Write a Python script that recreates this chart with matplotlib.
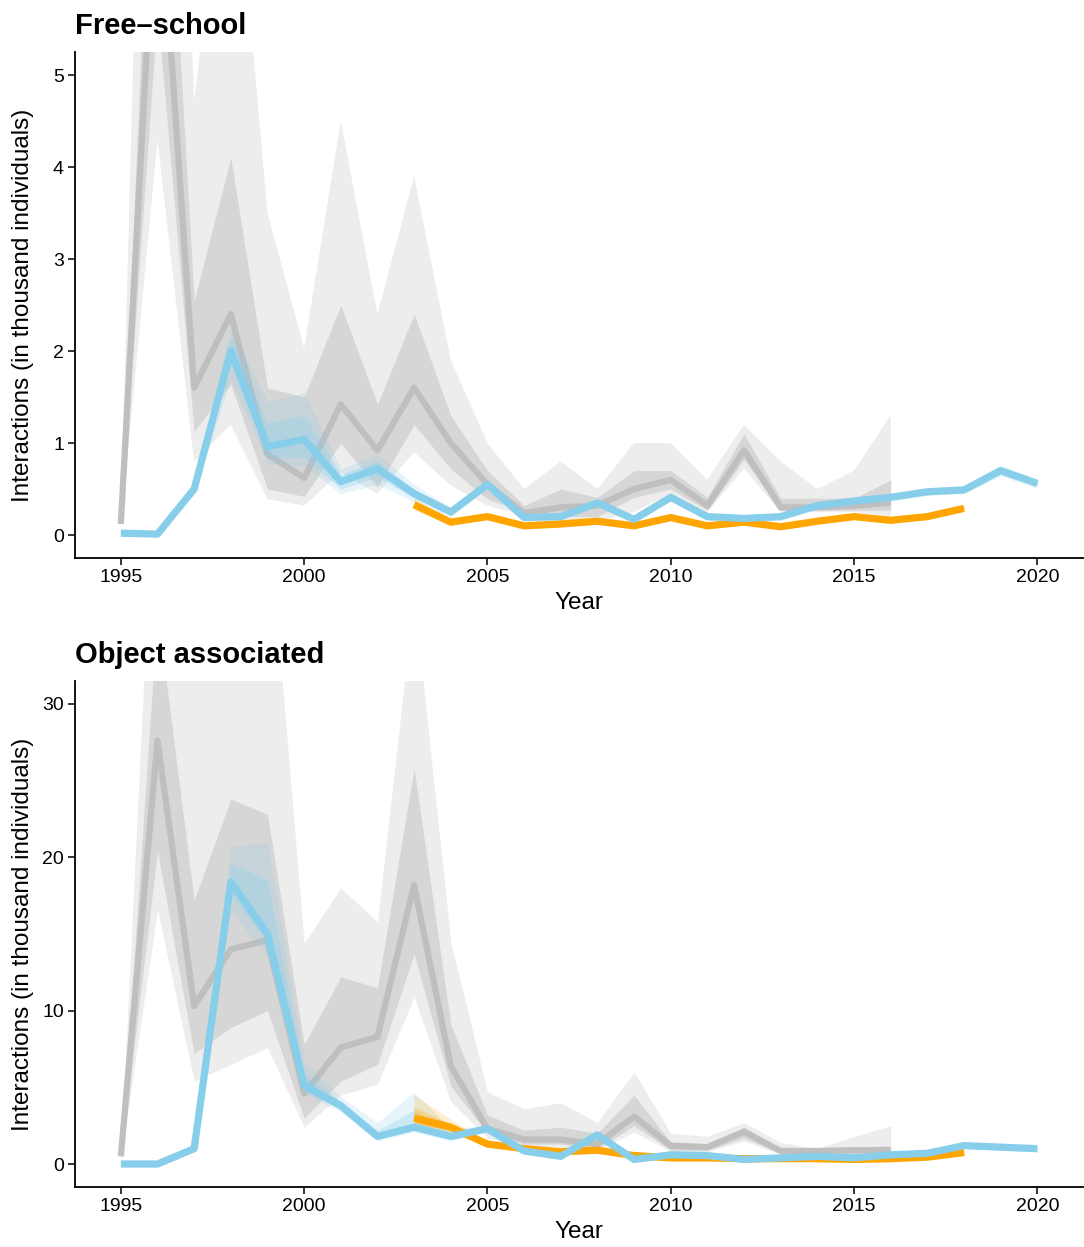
import numpy as np
import matplotlib.pyplot as plt

plt.rcParams['font.family'] = ['Liberation Sans', 'DejaVu Sans']

years_gray = list(range(1995, 2017))
years_blue = list(range(1995, 2021))
years_orange = list(range(2003, 2019))

# ---- Free-school (thousand individuals) ----
fs_gray = [0.12, 7.4, 1.6, 2.4, 0.88, 0.62, 1.42, 0.92, 1.6, 1.0, 0.55, 0.24, 0.3, 0.32, 0.5, 0.6, 0.32, 0.92, 0.3, 0.3, 0.32, 0.35]
fs_gray_hi50 = [0.14, 9.5, 2.55, 4.1, 1.6, 1.5, 2.5, 1.42, 2.4, 1.3, 0.7, 0.32, 0.5, 0.41, 0.7, 0.7, 0.41, 1.1, 0.4, 0.4, 0.4, 0.6]
fs_gray_lo50 = [0.1, 5.7, 1.13, 1.64, 0.5, 0.42, 1.0, 0.52, 1.2, 0.72, 0.39, 0.25, 0.2, 0.2, 0.41, 0.5, 0.27, 0.82, 0.27, 0.27, 0.27, 0.27]
fs_gray_hi95 = [0.16, 15.0, 4.72, 8.0, 3.5, 2.03, 4.5, 2.4, 3.9, 1.9, 1.0, 0.5, 0.8, 0.5, 1.0, 1.0, 0.6, 1.2, 0.8, 0.5, 0.7, 1.3]
fs_gray_lo95 = [0.08, 4.3, 0.8, 1.2, 0.39, 0.32, 0.68, 0.45, 0.9, 0.54, 0.32, 0.21, 0.15, 0.15, 0.25, 0.45, 0.25, 0.72, 0.25, 0.25, 0.25, 0.2]

fs_blue = [0.02, 0.01, 0.5, 2.0, 0.96, 1.04, 0.58, 0.72, 0.45, 0.25, 0.55, 0.19, 0.2, 0.35, 0.17, 0.41, 0.2, 0.18, 0.2, 0.32, 0.37, 0.41, 0.47, 0.49, 0.7, 0.56]
fs_blue_hi95 = [0.04, 0.03, 0.56, 2.25, 1.45, 1.55, 0.72, 0.88, 0.55, 0.3, 0.6, 0.23, 0.24, 0.39, 0.21, 0.45, 0.24, 0.22, 0.24, 0.36, 0.41, 0.45, 0.51, 0.54, 0.76, 0.61]
fs_blue_lo95 = [0.0, 0.0, 0.45, 1.7, 0.78, 0.75, 0.45, 0.55, 0.36, 0.2, 0.5, 0.15, 0.16, 0.31, 0.13, 0.37, 0.16, 0.14, 0.16, 0.28, 0.33, 0.37, 0.43, 0.45, 0.64, 0.51]
fs_blue_hi50 = [0.03, 0.02, 0.53, 2.15, 1.22, 1.3, 0.66, 0.8, 0.5, 0.28, 0.58, 0.21, 0.22, 0.37, 0.19, 0.43, 0.22, 0.2, 0.22, 0.34, 0.39, 0.43, 0.49, 0.51, 0.73, 0.58]
fs_blue_lo50 = [0.01, 0.0, 0.47, 1.85, 0.85, 0.85, 0.5, 0.63, 0.4, 0.22, 0.52, 0.17, 0.18, 0.33, 0.15, 0.39, 0.18, 0.16, 0.18, 0.3, 0.35, 0.39, 0.45, 0.47, 0.67, 0.54]

fs_orange = [0.33, 0.14, 0.2, 0.1, 0.12, 0.15, 0.1, 0.19, 0.1, 0.14, 0.09, 0.15, 0.2, 0.16, 0.2, 0.29]
fs_orange_hi95 = [0.4, 0.17, 0.23, 0.13, 0.15, 0.18, 0.13, 0.22, 0.13, 0.17, 0.12, 0.18, 0.23, 0.19, 0.23, 0.32]
fs_orange_lo95 = [0.27, 0.11, 0.17, 0.07, 0.09, 0.12, 0.07, 0.16, 0.07, 0.11, 0.06, 0.12, 0.17, 0.13, 0.17, 0.26]
fs_orange_hi50 = [0.37, 0.16, 0.22, 0.12, 0.14, 0.17, 0.12, 0.21, 0.12, 0.16, 0.11, 0.17, 0.22, 0.18, 0.22, 0.31]
fs_orange_lo50 = [0.3, 0.12, 0.18, 0.08, 0.1, 0.13, 0.08, 0.17, 0.08, 0.12, 0.07, 0.13, 0.18, 0.14, 0.18, 0.27]

# ---- Object associated (thousand individuals) ----
oa_gray = [0.5, 27.6, 10.3, 14.0, 14.6, 4.6, 7.6, 8.3, 18.2, 6.4, 2.3, 1.6, 1.6, 1.3, 3.1, 1.2, 1.1, 2.1, 0.85, 0.85, 0.9, 0.9]
oa_gray_hi50 = [0.6, 36.0, 17.2, 23.8, 22.8, 7.8, 12.2, 11.5, 25.8, 9.1, 3.2, 2.2, 2.4, 2.0, 4.5, 1.4, 1.3, 2.4, 1.0, 1.0, 1.1, 1.2]
oa_gray_lo50 = [0.4, 20.4, 7.2, 8.9, 10.0, 3.0, 5.4, 6.5, 13.7, 5.1, 2.0, 1.3, 1.3, 1.0, 2.5, 0.9, 0.9, 1.7, 0.7, 0.7, 0.7, 0.7]
oa_gray_hi95 = [0.7, 50.0, 40.0, 40.0, 43.0, 14.4, 18.0, 15.8, 37.0, 14.5, 4.7, 3.6, 4.0, 2.7, 6.0, 2.0, 1.8, 2.7, 1.4, 1.0, 1.8, 2.5]
oa_gray_lo95 = [0.3, 16.6, 5.4, 6.5, 7.6, 2.4, 4.5, 5.2, 10.9, 4.1, 1.7, 1.1, 1.1, 0.9, 2.1, 0.8, 0.8, 1.5, 0.6, 0.6, 0.6, 0.6]

oa_blue = [0.0, 0.0, 1.0, 18.4, 15.0, 5.1, 3.8, 1.8, 2.4, 1.8, 2.3, 0.85, 0.5, 1.9, 0.3, 0.6, 0.55, 0.3, 0.4, 0.5, 0.4, 0.6, 0.7, 1.2, 1.1, 1.0]
oa_blue_hi95 = [0.1, 0.1, 1.2, 20.7, 21.0, 6.7, 4.4, 2.7, 4.7, 2.3, 2.5, 1.0, 0.7, 2.1, 0.5, 0.8, 0.75, 0.5, 0.6, 0.7, 0.6, 0.8, 0.9, 1.4, 1.3, 1.2]
oa_blue_lo95 = [0.0, 0.0, 0.8, 16.5, 13.5, 4.6, 3.4, 1.5, 2.1, 1.5, 2.1, 0.65, 0.3, 1.7, 0.1, 0.4, 0.35, 0.1, 0.2, 0.3, 0.2, 0.4, 0.5, 1.0, 0.9, 0.8]
oa_blue_hi50 = [0.05, 0.05, 1.1, 19.6, 18.5, 5.8, 4.1, 2.2, 3.5, 2.1, 2.4, 0.95, 0.6, 2.0, 0.4, 0.7, 0.65, 0.4, 0.5, 0.6, 0.5, 0.7, 0.8, 1.3, 1.2, 1.1]
oa_blue_lo50 = [0.0, 0.0, 0.9, 17.5, 14.5, 4.9, 3.6, 1.65, 2.25, 1.65, 2.2, 0.75, 0.4, 1.8, 0.2, 0.5, 0.45, 0.2, 0.3, 0.4, 0.3, 0.5, 0.6, 1.1, 1.0, 0.9]

oa_orange = [3.0, 2.4, 1.3, 1.0, 0.8, 0.9, 0.55, 0.4, 0.4, 0.35, 0.35, 0.35, 0.3, 0.35, 0.45, 0.75]
oa_orange_hi95 = [4.5, 2.9, 1.5, 1.2, 1.0, 1.1, 0.75, 0.6, 0.6, 0.55, 0.55, 0.55, 0.5, 0.55, 0.65, 0.95]
oa_orange_lo95 = [2.3, 2.1, 1.1, 0.8, 0.6, 0.7, 0.35, 0.2, 0.2, 0.15, 0.15, 0.15, 0.1, 0.15, 0.25, 0.55]
oa_orange_hi50 = [3.7, 2.6, 1.4, 1.1, 0.9, 1.0, 0.65, 0.5, 0.5, 0.45, 0.45, 0.45, 0.4, 0.45, 0.55, 0.85]
oa_orange_lo50 = [2.6, 2.2, 1.2, 0.9, 0.7, 0.8, 0.45, 0.3, 0.3, 0.25, 0.25, 0.25, 0.2, 0.25, 0.35, 0.65]

GRAY_LINE = '#bfbfbf'
GRAY_IN = '#d6d6d6'
GRAY_OUT = '#ededed'
BLUE = '#87ceeb'
ORANGE = '#ffa500'


def draw_panel(ax, title, ymax, yticks,
               gray, g_hi50, g_lo50, g_hi95, g_lo95,
               blue, b_hi95, b_lo95, b_hi50, b_lo50,
               orange, o_hi95, o_lo95, o_hi50, o_lo50):
    ax.fill_between(years_gray, g_lo95, g_hi95, color=GRAY_OUT, lw=0, zorder=1)
    ax.fill_between(years_gray, g_lo50, g_hi50, color=GRAY_IN, lw=0, zorder=2)
    ax.plot(years_gray, gray, color=GRAY_LINE, lw=4.5, solid_capstyle='butt',
            solid_joinstyle='round', zorder=3)

    ax.fill_between(years_blue, b_lo95, b_hi95, color=BLUE, alpha=0.2, lw=0, zorder=4)
    ax.fill_between(years_blue, b_lo50, b_hi50, color=BLUE, alpha=0.3, lw=0, zorder=4)
    ax.fill_between(years_orange, o_lo95, o_hi95, color=ORANGE, alpha=0.2, lw=0, zorder=5)
    ax.fill_between(years_orange, o_lo50, o_hi50, color=ORANGE, alpha=0.3, lw=0, zorder=5)

    ax.plot(years_orange, orange, color=ORANGE, lw=5.2, solid_capstyle='butt',
            solid_joinstyle='round', zorder=6)
    ax.plot(years_blue, blue, color=BLUE, lw=5.2, solid_capstyle='butt',
            solid_joinstyle='round', zorder=7)

    ax.set_xlim(1993.75, 2021.25)
    ax.set_ylim(-0.05 * ymax, 1.05 * ymax)
    ax.set_xticks([1995, 2000, 2005, 2010, 2015, 2020])
    ax.set_yticks(yticks)
    for s in ['top', 'right']:
        ax.spines[s].set_visible(False)
    for s in ['left', 'bottom']:
        ax.spines[s].set_linewidth(1.3)
    ax.tick_params(labelsize=14, width=1.1, length=5, pad=3, colors='black')
    ax.set_xlabel('Year', fontsize=17.5, labelpad=4.5)
    ax.set_ylabel('Interactions (in thousand individuals)', fontsize=17.5)
    ax.yaxis.set_label_coords(-0.0405, 0.5)
    ax.set_title(title, loc='left', fontsize=21, fontweight='bold', pad=13)


fig = plt.figure(figsize=(10.84, 12.47), dpi=100)
ax1 = fig.add_axes([0.0692, 0.5525, 0.93, 0.4058])
ax2 = fig.add_axes([0.0692, 0.0481, 0.93, 0.4058])

draw_panel(ax1, 'Free\u2013school', 5, [0, 1, 2, 3, 4, 5],
           fs_gray, fs_gray_hi50, fs_gray_lo50, fs_gray_hi95, fs_gray_lo95,
           fs_blue, fs_blue_hi95, fs_blue_lo95, fs_blue_hi50, fs_blue_lo50,
           fs_orange, fs_orange_hi95, fs_orange_lo95, fs_orange_hi50, fs_orange_lo50)
draw_panel(ax2, 'Object associated', 30, [0, 10, 20, 30],
           oa_gray, oa_gray_hi50, oa_gray_lo50, oa_gray_hi95, oa_gray_lo95,
           oa_blue, oa_blue_hi95, oa_blue_lo95, oa_blue_hi50, oa_blue_lo50,
           oa_orange, oa_orange_hi95, oa_orange_lo95, oa_orange_hi50, oa_orange_lo50)

fig.savefig('out.png', dpi=100)
